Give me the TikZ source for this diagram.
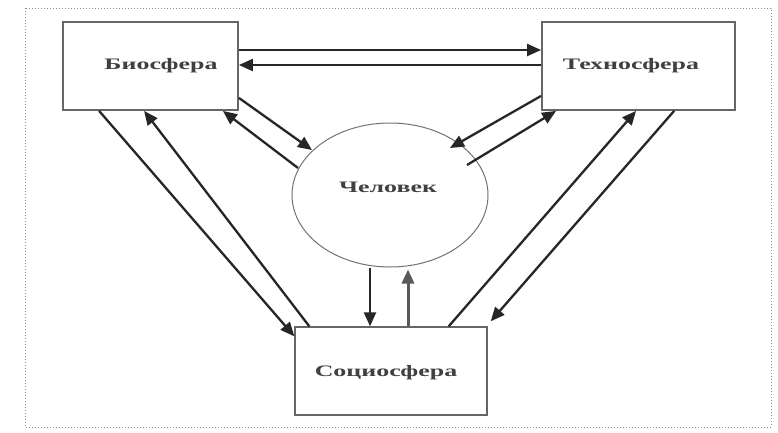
\documentclass[tikz,border=0pt]{standalone}
\usepackage{fontspec}
\setmainfont{Liberation Serif}
\usetikzlibrary{arrows.meta,shapes.geometric}
\begin{document}
\begin{tikzpicture}[x=1pt,y=-1pt,
  box/.style={draw=black!60,line width=1.8pt,rectangle,inner sep=0pt},
  lbl/.style={text=black!75,font=\fontsize{16}{16}\selectfont\bfseries},
  conn/.style={draw=black!85,line width=2.3pt,-{Triangle[length=14pt,width=12pt]}},
  frame/.style={draw=black!45,line width=1pt,dotted}]
\useasboundingbox (0,0) rectangle (778,432);
\fill[white] (0,0) rectangle (778,432);
\draw[frame] (25,8) rectangle (771,427);
\node[box,minimum width=175pt,minimum height=88pt] (bio) at (150.5,66) {};
\node[box,minimum width=193pt,minimum height=88pt] (tech) at (638.5,66) {};
\node[draw=black!55,line width=1pt,ellipse,minimum width=196pt,minimum height=144pt,inner sep=0pt] (chel) at (390,195) {};
\node[box,line width=1.4pt,minimum width=192pt,minimum height=88pt] (socio) at (391,371) {};
\node[lbl] (tbio) at (161,66) {\scalebox{1.62}[1]{Биосфера}};
\node[lbl] (ttech) at (631,66) {\scalebox{1.62}[1]{Техносфера}};
\node[lbl] (tchel) at (388,187) {\scalebox{1.62}[1]{Человек}};
\node[lbl] (tsocio) at (386,373) {\scalebox{1.62}[1]{Социосфера}};
% Bio <-> Techno
\draw[conn] ([yshift=16pt]bio.east) -- ([yshift=16pt]bio.east -| tech.west);
\draw[conn] ([yshift=1pt]tech.west) -- ([yshift=1pt]tech.west -| bio.east);
% Bio <-> Chel
\draw[conn] ([yshift=13pt]bio.south east) -- ([xshift=-78pt,yshift=45pt]chel.center);
\draw[conn] ([xshift=-92pt,yshift=27pt]chel.center) -- ([xshift=-16pt]bio.south east);
% Tech <-> Chel
\draw[conn] ([yshift=15pt]tech.south west) -- ([xshift=60pt,yshift=47pt]chel.center);
\draw[conn] ([xshift=77pt,yshift=30pt]chel.center) -- ([xshift=15pt]tech.south west);
% Bio <-> Socio
\draw[conn] ([xshift=37pt]bio.south west) -- ([yshift=-10pt]socio.north west);
\draw[conn] ([xshift=15pt]socio.north west) -- ([xshift=82pt]bio.south west);
% Tech <-> Socio
\draw[conn] ([xshift=-39pt]socio.north east) -- ([xshift=95pt]tech.south west);
\draw[conn] ([xshift=133pt]tech.south west) -- ([xshift=3pt,yshift=5pt]socio.north east);
% Chel <-> Socio
\draw[conn] ([xshift=-20pt]chel.south) -- ([xshift=-21pt]socio.north);
\draw[conn,draw=black!65,line width=3pt] ([xshift=17pt]socio.north) -- ([xshift=17pt,yshift=-2pt]socio.north |- chel.south);
\end{tikzpicture}
\end{document}
